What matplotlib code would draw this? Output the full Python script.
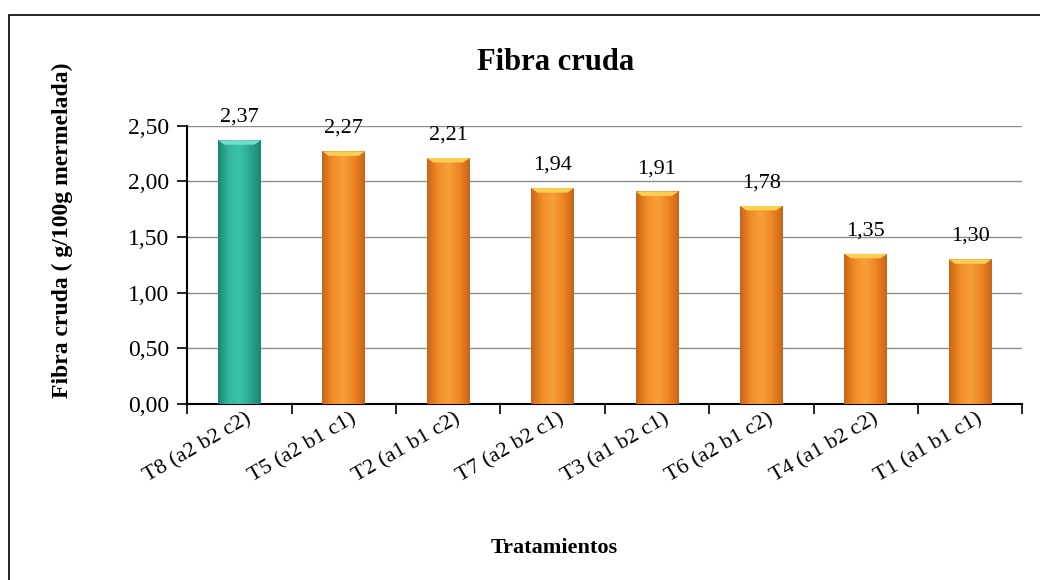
import matplotlib
matplotlib.use('Agg')
import matplotlib.pyplot as plt
import matplotlib.transforms as mtransforms
from matplotlib.patches import Rectangle
from matplotlib.colors import LinearSegmentedColormap
import numpy as np

categories = ['T8 (a2 b2 c2)', 'T5 (a2 b1 c1)', 'T2 (a1 b1 c2)', 'T7 (a2 b2 c1)',
              'T3 (a1 b2 c1)', 'T6 (a2 b1 c2)', 'T4 (a1 b2 c2)', 'T1 (a1 b1 c1)']
values = [2.37, 2.27, 2.21, 1.94, 1.91, 1.78, 1.35, 1.30]
yticks = [0.0, 0.5, 1.0, 1.5, 2.0, 2.5]

plt.rcParams['font.family'] = ['Liberation Serif', 'DejaVu Serif']

fig = plt.figure(figsize=(10.4, 5.8), dpi=100)
ax = fig.add_axes([0.18, 0.3034, 0.803, 0.4797])

x = np.arange(len(categories))
bars = ax.bar(x, values, width=0.41, color='none', edgecolor='none', zorder=3)

teal = LinearSegmentedColormap.from_list('teal', ['#1B8670', '#35B89E', '#3CC2A8', '#2BA88F', '#1B8670'])
orange = LinearSegmentedColormap.from_list('orange', ['#C8651A', '#F28C26', '#F7A03A', '#EE8622', '#C8651A'])
grad = np.linspace(0, 1, 64).reshape(1, -1)

for i, b in enumerate(bars):
    cmap = teal if i == 0 else orange
    x0, w, h = b.get_x(), b.get_width(), b.get_height()
    im = ax.imshow(grad, cmap=cmap, aspect='auto', extent=(x0, x0 + w, 0, h), zorder=3)
    im.set_clip_path(b)
    cap = '#6FE0C8' if i == 0 else '#FBD050'
    ax.fill([x0, x0 + w, x0 + w * 0.85, x0 + w * 0.15], [h, h, h - 0.04, h - 0.04],
            color=cap, zorder=4, linewidth=0)

for b, v in zip(bars, values):
    ax.text(b.get_x() + b.get_width() / 2, v + 0.12, f'{v:.2f}'.replace('.', ','),
            ha='center', va='bottom', fontsize=16, clip_on=False)

ax.set_xlim(-0.5, len(categories) - 0.5)
ax.set_ylim(0, 2.5)
ax.set_yticks(yticks)
ax.set_yticklabels([f'{t:.2f}'.replace('.', ',') for t in yticks], fontsize=17)
ax.yaxis.grid(True, color='#8c8c8c', linewidth=1.0, zorder=0)
ax.set_axisbelow(True)

ax.set_xticks(x)
ax.set_xticklabels(categories, rotation=30, ha='right', rotation_mode='anchor', fontsize=16)
ax.tick_params(axis='x', length=0, pad=4)
shift = mtransforms.ScaledTranslation(6 / 100, 0, fig.dpi_scale_trans)
for lbl in ax.get_xticklabels():
    lbl.set_transform(lbl.get_transform() + shift)
ax.set_xticks(np.arange(-0.5, len(categories), 1.0), minor=True)
ax.tick_params(axis='x', which='minor', length=7, width=1.2, direction='out')
ax.tick_params(axis='y', length=7, width=1.2, direction='out', pad=6)

for s in ['top', 'right']:
    ax.spines[s].set_visible(False)
for s in ['left', 'bottom']:
    ax.spines[s].set_linewidth(1.5)

ax.set_ylabel('Fibra cruda ( g/100g mermelada)', fontsize=17, fontweight='bold')
ax.yaxis.set_label_coords(-0.137, 0.626)
ax.set_xlabel('Tratamientos', fontsize=16, fontweight='bold', va='center')
ax.xaxis.set_label_coords(0.44, -0.518)

fig.text(0.534, 0.893, 'Fibra cruda', ha='center', va='center', fontsize=22, fontweight='bold')

# outer frame runs off the right and bottom edges in the original
fig.patches.append(Rectangle((0.009, -0.05), 1.1, 1.024, transform=fig.transFigure,
                             fill=False, edgecolor='black', linewidth=1.2))

fig.savefig('out.png', dpi=100)
